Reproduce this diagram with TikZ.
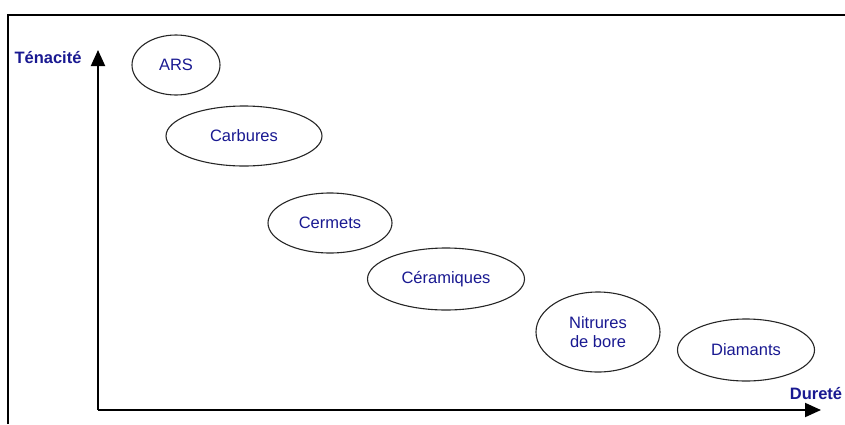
\documentclass[tikz,border=0pt]{standalone}
\usepackage{fontspec}
\setmainfont{Liberation Sans}
\usetikzlibrary{shapes.geometric,arrows.meta}
\definecolor{txtblue}{RGB}{25,25,145}
\tikzset{
  famille/.style={draw=black!85, ellipse, line width=1.1pt, inner sep=0pt, text=txtblue, font=\fontsize{16.5}{19}\selectfont, align=center},
  axe/.style={line width=2pt, -{Triangle[length=16pt,width=14pt]}},
  titre/.style={text=txtblue, font=\fontsize{16.5}{19}\selectfont\bfseries}
}
\begin{document}
\begin{tikzpicture}[x=1pt,y=-1pt]
\useasboundingbox (0,0) rectangle (845,424);
\draw[line width=2.5pt] (8,424) -- (8,15) -- (845,15);
\coordinate (o) at (98,410);
\coordinate (y) at (98,50);
\coordinate (x) at (821,410);
\draw[axe] (o) -- (y);
\draw[axe] (o) -- (x);
\node[titre] (ten) at (48,58) {Ténacité};
\node[titre] (dur) at (816,394) {Dureté};
\node[famille, minimum width=88pt, minimum height=60pt] (1) at (176,65) {ARS};
\node[famille, minimum width=156pt, minimum height=60pt] (2) at (244,136) {Carbures};
\node[famille, minimum width=124pt, minimum height=60pt] (3) at (330,223) {Cermets};
\node[famille, minimum width=157pt, minimum height=62pt] (4) at (446,279) {Céramiques};
\node[famille, minimum width=124pt, minimum height=80pt] (5) at (598,332) {Nitrures\\de bore};
\node[famille, minimum width=137pt, minimum height=62pt] (6) at (746,350) {Diamants};
\end{tikzpicture}
\end{document}
